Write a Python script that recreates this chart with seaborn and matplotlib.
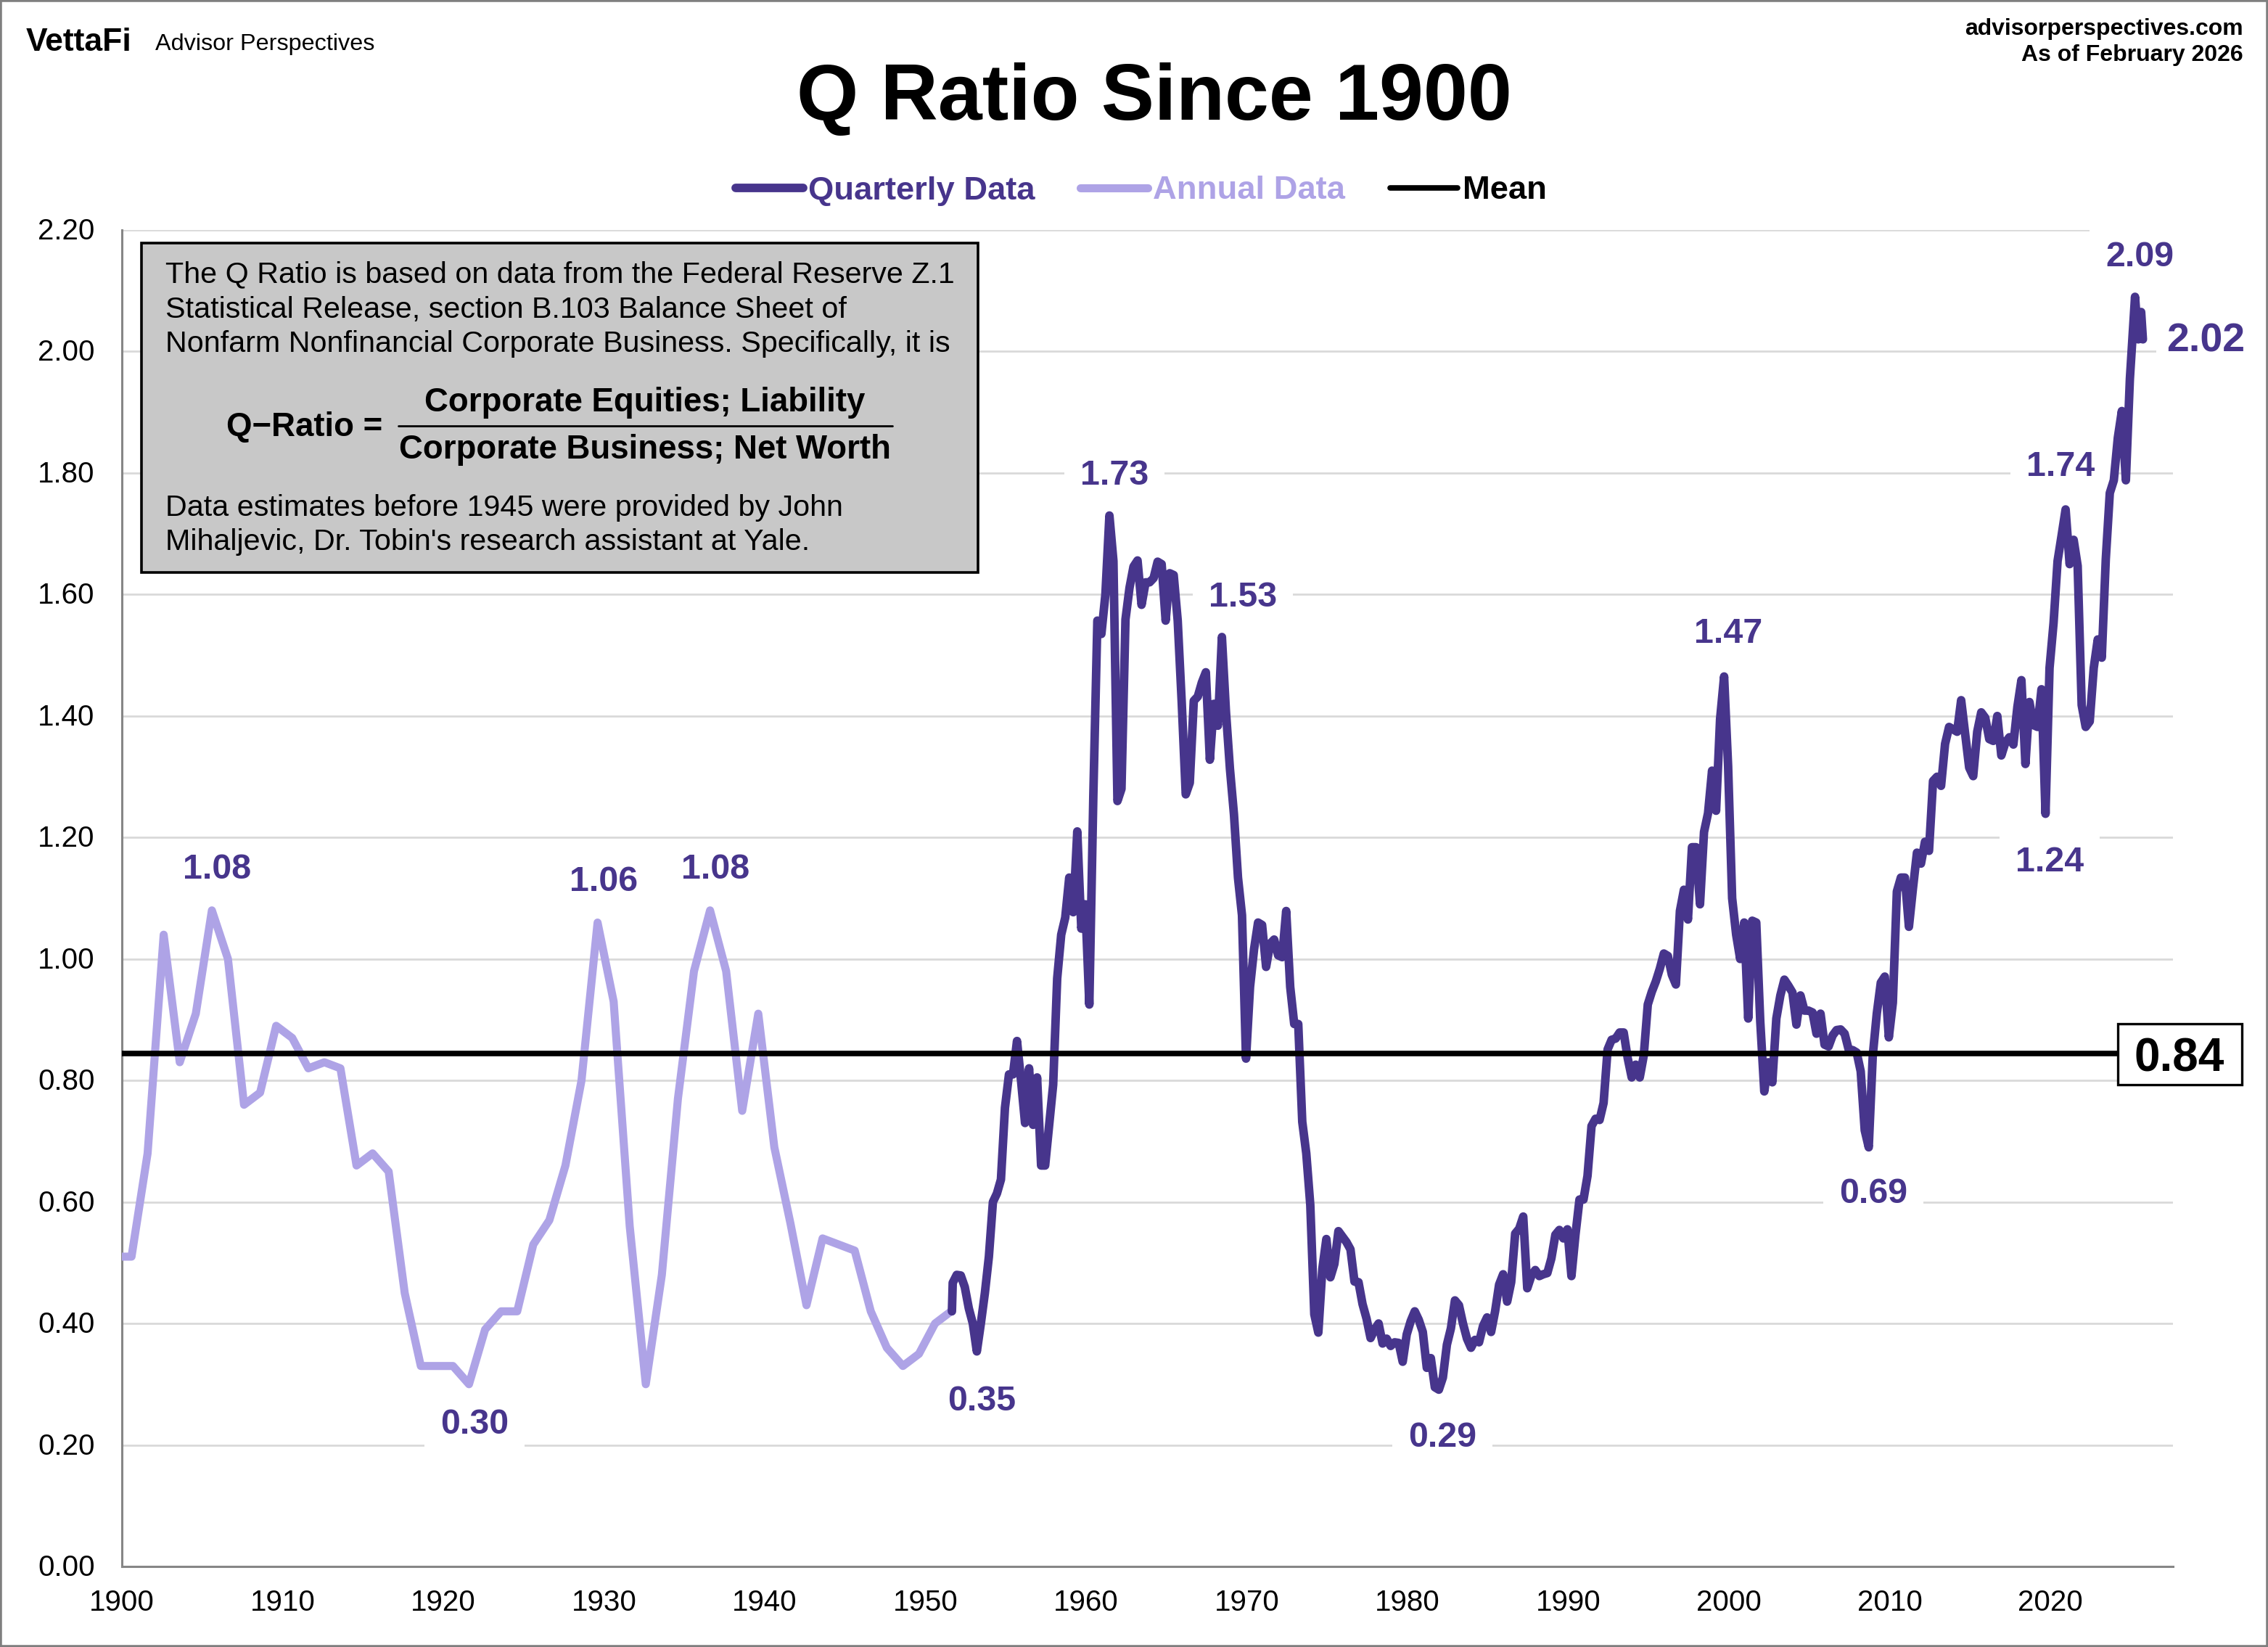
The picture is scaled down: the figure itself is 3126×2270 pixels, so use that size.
import numpy as np
import pandas as pd
import matplotlib
matplotlib.use("Agg")
import matplotlib.pyplot as plt
from matplotlib.patches import Rectangle
from matplotlib.lines import Line2D
from matplotlib.transforms import ScaledTranslation
import seaborn as sns

# ---- data ----
annual_values = [0.51, 0.51, 0.68, 1.04, 0.83, 0.91, 1.08, 1.00, 0.76, 0.78, 0.89, 0.87, 0.82, 0.83, 0.82,
                 0.66, 0.68, 0.65, 0.45, 0.33, 0.33, 0.33, 0.30, 0.39, 0.42, 0.42, 0.53, 0.57, 0.66, 0.80,
                 1.06, 0.93, 0.56, 0.30, 0.48, 0.77, 0.98, 1.08, 0.98, 0.75, 0.91, 0.69, 0.565, 0.43, 0.54,
                 0.53, 0.52, 0.42, 0.36, 0.33, 0.35, 0.40, 0.42]
annual_years = [1900.0] + [1900.6 + i for i in range(len(annual_values) - 1)]

quarterly_values = [
    .467, .48, .479, .46, .425, .40, .354, .40, .45, .51, .60, .614, .637, .755, .81, .81, .865, .80, .73, .82,
    .727, .805, .66, .66, .727, .793, .968, 1.04, 1.068, 1.134, 1.077, 1.21, 1.05, 1.09, .925, 1.27, 1.557,
    1.535, 1.60, 1.73, 1.655,
    1.26, 1.28, 1.559, 1.611, 1.646, 1.656, 1.583, 1.62, 1.62, 1.627, 1.654, 1.65, 1.557, 1.635, 1.632, 1.557,
    1.422, 1.271, 1.29, 1.425, 1.432, 1.455, 1.472, 1.328, 1.42, 1.384, 1.53, 1.408, 1.313, 1.238, 1.134, 1.072,
    .836, .954, 1.016, 1.06, 1.056, .987, 1.025, 1.032, 1.006, 1.003, 1.079, .954, .893, .893, .732, .68, .595,
    .415, .385, .49,
    .539, .476, .498, .552, .543, .534, .522, .469, .468, .432, .408, .376, .39, .40, .367, .375, .363, .369,
    .368, .337, .382, .404, .42, .406, .386, .327, .343, .295, .291, .311, .365, .392, .438, .43, .40, .375,
    .36, .373, .369, .396, .41, .386, .42, .464, .481, .436, .468, .548, .556, .576, .458,
    .478, .488, .478, .481, .483, .507, .546, .554, .54, .555, .478, .546, .604, .604, .643, .725, .737, .735,
    .763, .851, .867, .869, .879, .879, .837, .805, .826, .805, .841, .925, .946, .963, .984, 1.009, 1.005,
    .974, .958, 1.079, 1.114, 1.065, 1.184, 1.184, 1.09, 1.209, 1.24, 1.31, 1.244, 1.395, 1.465, 1.317, 1.10,
    1.04,
    1.0, 1.06, .902, 1.063, 1.06, .897, .782, .83, .797, .902, .94, .966, .956, .945, .892, .94, .915, .915,
    .912, .877, .91, .859, .856, .874, .883, .884, .877, .851, .85, .846, .815, .718, .69, .841, .91, .961,
    .971, .871, .928, 1.111, 1.134, 1.134, 1.053, 1.116, 1.175, 1.157, 1.193, 1.178, 1.293, 1.30, 1.285,
    1.354, 1.382, 1.378, 1.374, 1.426, 1.37, 1.315, 1.301, 1.374, 1.406, 1.397, 1.362, 1.359, 1.40, 1.335,
    1.356, 1.365, 1.353, 1.415, 1.459, 1.321, 1.423, 1.385, 1.382, 1.444, 1.239, 1.479, 1.553, 1.655, 1.697,
    1.74, 1.65, 1.69, 1.647, 1.418, 1.382, 1.391, 1.479, 1.526, 1.496, 1.658, 1.767, 1.788, 1.858, 1.902,
    1.788, 1.955]
quarterly_years = [1951.70 + 0.25 * i for i in range(len(quarterly_values))]
first_value, first_year = [0.42], [1951.65]
last_values, last_years = [2.09, 2.02, 2.065, 2.02], [2025.27, 2025.47, 2025.65, 2025.76]

mean_value = 0.845
mean_years = [1900, 2027.6]

y_ticks = [0.0, 0.2, 0.4, 0.6, 0.8, 1.0, 1.2, 1.4, 1.6, 1.8, 2.0, 2.2]
x_ticks = list(range(1900, 2021, 10))

data_labels = ["1.08", "0.30", "1.06", "1.08", "0.35", "1.73", "1.53", "0.29", "1.47", "0.69", "1.74", "1.24", "2.09"]
label_x_px = [299, 654, 832, 986, 1353, 1536, 1713, 1988, 2382, 2582, 2840, 2825, 2949]
label_y_px = [1194, 1959, 1211, 1194, 1927, 651, 819, 1977, 869, 1641, 639, 1184, 350]

# ---- style ----
W, H = 3126, 2270
DPI = 100
DARK = "#47358C"
LIGHT = "#AEA3E6"
GRID = "#D9D9D9"
SPINE = "#868686"

sns.set_theme(style="white")
plt.rcParams["font.family"] = ["Liberation Sans", "DejaVu Sans"]

fig = plt.figure(figsize=(W / DPI, H / DPI), dpi=DPI, facecolor="white")
AX_L, AX_R, AX_T, AX_B = 168, 2995, 317, 2159
ax = fig.add_axes([AX_L / W, 1 - AX_B / H, (AX_R - AX_L) / W, (AX_B - AX_T) / H])


def px_text(x, y, s, size, weight="normal", color="black", ha="center", **kw):
    """Text whose cap-height centre sits at pixel (x, y)."""
    base = y + 0.358 * size * DPI / 72
    return fig.text(x / W, 1 - base / H, s, fontsize=size, fontweight=weight, color=color,
                    ha=ha, va="baseline", **kw)


annual = pd.DataFrame({"year": annual_years, "q": annual_values})
quarterly = pd.DataFrame({"year": first_year + quarterly_years + last_years,
                          "q": first_value + quarterly_values + last_values})
mean_df = pd.DataFrame({"year": mean_years, "q": [mean_value, mean_value]})

common = dict(x="year", y="q", ax=ax, estimator=None, errorbar=None, sort=False, legend=False)
line_kw = dict(solid_joinstyle="round", solid_capstyle="round")
sns.lineplot(data=annual, color=LIGHT, linewidth=8, zorder=3, label="Annual Data", **common, **line_kw)
sns.lineplot(data=quarterly, color=DARK, linewidth=8.5, zorder=4, label="Quarterly Data", **common, **line_kw)
sns.lineplot(data=mean_df, color="black", linewidth=5.5, zorder=5, label="Mean", **common)

ax.set_xlim(1900, 2027.63)
ax.set_ylim(0, 2.2)
ax.set_xticks(x_ticks)
ax.set_yticks(y_ticks)
ax.set_yticklabels([f"{v:.2f}" for v in y_ticks], va="center_baseline")
ax.set_xlabel("")
ax.set_ylabel("")
ax.tick_params(axis="both", length=0, labelsize=29, labelcolor="black")
ax.tick_params(axis="x", pad=22)
ax.tick_params(axis="y", pad=27)
lift = ScaledTranslation(0, 2 / DPI, fig.dpi_scale_trans)
for lab in ax.get_yticklabels():
    lab.set_transform(lab.get_transform() + lift)
ax.yaxis.grid(True, color=GRID, linewidth=2, zorder=0.5)
ax.xaxis.grid(False)
ax.set_axisbelow(True)
for side in ("top", "right"):
    ax.spines[side].set_visible(False)
for side in ("left", "bottom"):
    ax.spines[side].set_color(SPINE)
    ax.spines[side].set_linewidth(2.2)
    ax.spines[side].set_zorder(2)

# value labels: white plate hides the gridline behind them, lines stay on top
plate = dict(boxstyle="square,pad=0.46", mutation_aspect=0.7, facecolor="white", edgecolor="none")
for s, lx, ly in zip(data_labels, label_x_px, label_y_px):
    ax.annotate(s, xy=(lx, H - ly - 0.358 * 34.8 * DPI / 72), xycoords="figure pixels", fontsize=34.8,
                fontweight="bold", color=DARK, ha="center", va="baseline",
                bbox=plate, zorder=2.5, annotation_clip=False)
ax.annotate("2.02", xy=(3040, H - 465 - 0.358 * 40 * DPI / 72), xycoords="figure pixels", fontsize=40,
            fontweight="bold", color=DARK, ha="center", va="baseline",
            bbox=dict(facecolor="white", edgecolor="none", pad=10), zorder=2.5, annotation_clip=False)

# mean value box
fig.add_artist(Rectangle((2919 / W, 1 - 1495 / H), (3090 - 2919) / W, (1495 - 1411) / H,
                         transform=fig.transFigure, facecolor="white", edgecolor="black", linewidth=2.4, zorder=6))
px_text(3004, 1454, "0.84", 46, "bold", zorder=7)

# explanation box
fig.add_artist(Rectangle((195 / W, 1 - 789 / H), (1348 - 195) / W, (789 - 335) / H,
                         transform=fig.transFigure, facecolor="#C8C8C8", edgecolor="black", linewidth=2.6, zorder=6))
box_lines = ["The Q Ratio is based on data from the Federal Reserve Z.1",
             "Statistical Release, section B.103 Balance Sheet of",
             "Nonfarm Nonfinancial Corporate Business. Specifically, it is"]
for s, y in zip(box_lines, (375, 423, 470)):
    px_text(228, y, s, 29.7, ha="left", zorder=7)
px_text(889, 551, "Corporate Equities; Liability", 32.9, "bold", zorder=7)
px_text(312, 585, "Q\u2212Ratio =", 32.9, "bold", ha="left", zorder=7)
fig.add_artist(Line2D([549 / W, 1230 / W], [1 - 587 / H, 1 - 587 / H], transform=fig.transFigure,
                      color="black", linewidth=2, zorder=7))
px_text(889, 616, "Corporate Business; Net Worth", 32.9, "bold", zorder=7)
px_text(228, 696, "Data estimates before 1945 were provided by John", 29.7, ha="left", zorder=7)
px_text(228, 743, "Mihaljevic, Dr. Tobin's research assistant at Yale.", 29.7, ha="left", zorder=7)

# header
px_text(1591, 126, "Q Ratio Since 1900", 78.8, "bold")
px_text(36, 54, "VettaFi", 32, "bold", ha="left")
px_text(214, 57, "Advisor Perspectives", 23.3, ha="left")
px_text(3092, 37, "advisorperspectives.com", 23, "bold", ha="right")
px_text(3092, 73, "As of February 2026", 23, "bold", ha="right")

# legend
by_label = {ln.get_label(): ln for ln in ax.get_lines()}
names = ["Quarterly Data", "Annual Data", "Mean"]
fig.legend([by_label[n] for n in names], names, loc="center", bbox_to_anchor=(1573 / W, 1 - 263 / H), ncol=3,
           frameon=False, prop={"size": 32.7, "weight": "bold"}, labelcolor=[DARK, LIGHT, "black"],
           handlelength=2.05, handletextpad=0.15, columnspacing=1.37, borderpad=0, borderaxespad=0)

# outer frame
fig.add_artist(Rectangle((0, 0), 1, 1, transform=fig.transFigure, facecolor="none", edgecolor="#7F7F7F",
                         linewidth=4, zorder=10))

fig.savefig("out.png", dpi=DPI, facecolor="white")
